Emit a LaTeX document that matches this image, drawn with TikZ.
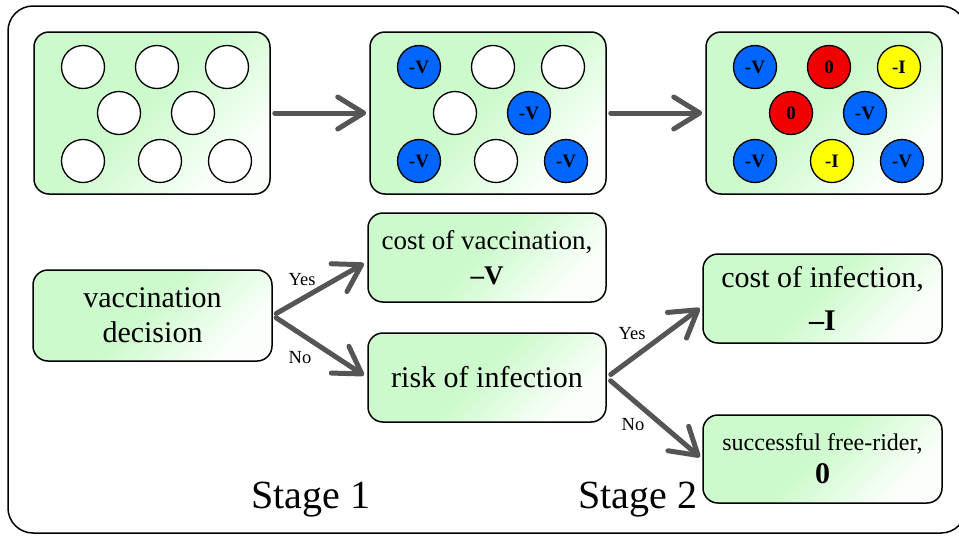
\documentclass[tikz,border=0pt]{standalone}
\usepackage{fontspec}
\setmainfont{Liberation Serif}
\usetikzlibrary{arrows.meta}
\definecolor{gA}{RGB}{205,250,205}
\definecolor{gB}{RGB}{250,255,250}
\definecolor{vblue}{RGB}{0,102,255}
\definecolor{ired}{RGB}{240,0,0}
\definecolor{iyel}{RGB}{255,255,0}
\definecolor{arr}{RGB}{85,85,85}
\pgfdeclareverticalshading{boxshade}{100bp}{color(0bp)=(gB); color(27bp)=(gB); color(52bp)=(gA); color(100bp)=(gA)}
\begin{document}
\begin{tikzpicture}[x=1pt,y=-1pt,
  gbox/.style={draw=black, line width=1.5pt, rounded corners=15pt,
    shading=boxshade, shading angle=45, inner sep=0pt, align=center},
  pc/.style={circle, draw=black, line width=1.3pt, minimum size=43pt, inner sep=0pt,
    font=\bfseries\fontsize{19}{19}\selectfont},
  wc/.style={pc, fill=white},
  bc/.style={pc, fill=vblue},
  rc/.style={pc, fill=ired},
  yc/.style={pc, fill=iyel},
  bigarrow/.style={draw=arr, line width=5pt, line cap=round,
    -{Straight Barb[length=26pt,width=32pt,round]}},
  lbl/.style={font=\fontsize{18.5}{18.5}\selectfont, anchor=base, inner sep=0pt},
  stagelbl/.style={font=\fontsize{40}{40}\selectfont, anchor=base, inner sep=0pt}
]
\useasboundingbox (0,0) rectangle (959,536);
\node[draw=black, line width=1.5pt, rounded corners=25pt, minimum width=958pt,
  minimum height=527pt, inner sep=0pt] (frame) at (487,269.5) {};

% population boxes
\node[gbox, minimum width=236pt, minimum height=162pt] (p1) at (152,113) {};
\node[gbox, minimum width=236pt, minimum height=162pt] (p2) at (488,113) {};
\node[gbox, minimum width=236pt, minimum height=162pt] (p3) at (824,113) {};

\foreach \dx/\dy/\s/\t [count=\i] in {-69/-46/wc/{}, 5/-46/wc/{}, 75/-46/wc/{},
   -33/0/wc/{}, 41/0/wc/{}, -69/48/wc/{}, 8/48/wc/{}, 78/48/wc/{}}
  \node[\s] (ac\i) at ({152+\dx},{113+\dy}) {\t};
\foreach \dx/\dy/\s/\t [count=\i] in {-69/-46/bc/{-V}, 5/-46/wc/{}, 75/-46/wc/{},
   -33/0/wc/{}, 41/0/bc/{-V}, -69/48/bc/{-V}, 8/48/wc/{}, 78/48/bc/{-V}}
  \node[\s] (bc\i) at ({488+\dx},{113+\dy}) {\t};
\foreach \dx/\dy/\s/\t [count=\i] in {-69/-46/bc/{-V}, 5/-46/rc/{0}, 75/-46/yc/{-I},
   -33/0/rc/{0}, 41/0/bc/{-V}, -69/48/bc/{-V}, 8/48/yc/{-I}, 78/48/bc/{-V}}
  \node[\s] (cc\i) at ({824+\dx},{113+\dy}) {\t};

\draw[bigarrow, shorten <=4pt, shorten >=3pt] (p1) -- (p2);
\draw[bigarrow, shorten <=4pt, shorten >=3pt] (p2) -- (p3);

% decision tree
\node[gbox, minimum width=239pt, minimum height=91pt, font=\fontsize{30}{35}\selectfont]
  (dec) at (152.5,315.5) {vaccination\\decision};
\node[gbox, minimum width=238pt, minimum height=89pt, font=\fontsize{27}{35}\selectfont]
  (cv) at (487,257.5) {cost of vaccination,\\\textbf{–V}};
\node[gbox, minimum width=238pt, minimum height=89pt, font=\fontsize{30}{35}\selectfont]
  (ri) at (487,377.5) {risk of infection};
\node[gbox, minimum width=239pt, minimum height=89pt, font=\fontsize{30}{43}\selectfont]
  (ci) at (822.5,298.5) {cost of infection,\\\textbf{–I}};
\node[gbox, minimum width=239pt, minimum height=88pt, font=\fontsize{24}{33}\selectfont]
  (fr) at (822.5,459) {successful free-rider,\\{\bfseries\fontsize{30}{33}\selectfont 0}};

\draw[bigarrow, shorten <=4pt, shorten >=4pt] (dec.east) -- ([yshift=-4pt]cv.west);
\draw[bigarrow, shorten <=4pt, shorten >=4pt] (dec.east) -- (ri.west);
\draw[bigarrow, shorten <=5pt, shorten >=3pt] (ri.east) -- ([yshift=-8pt]ci.west);
\draw[bigarrow, shorten <=5pt, shorten >=3pt] (ri.east) -- (fr.west);

\node[lbl] (yes1) at (302,285) {Yes};
\node[lbl] (no1) at (300,363) {No};
\node[lbl] (yes2) at (632,339) {Yes};
\node[lbl] (no2) at (633,430) {No};

\node[stagelbl] (st1) at (311,508) {Stage 1};
\node[stagelbl] (st2) at (638,508) {Stage 2};
\end{tikzpicture}
\end{document}
